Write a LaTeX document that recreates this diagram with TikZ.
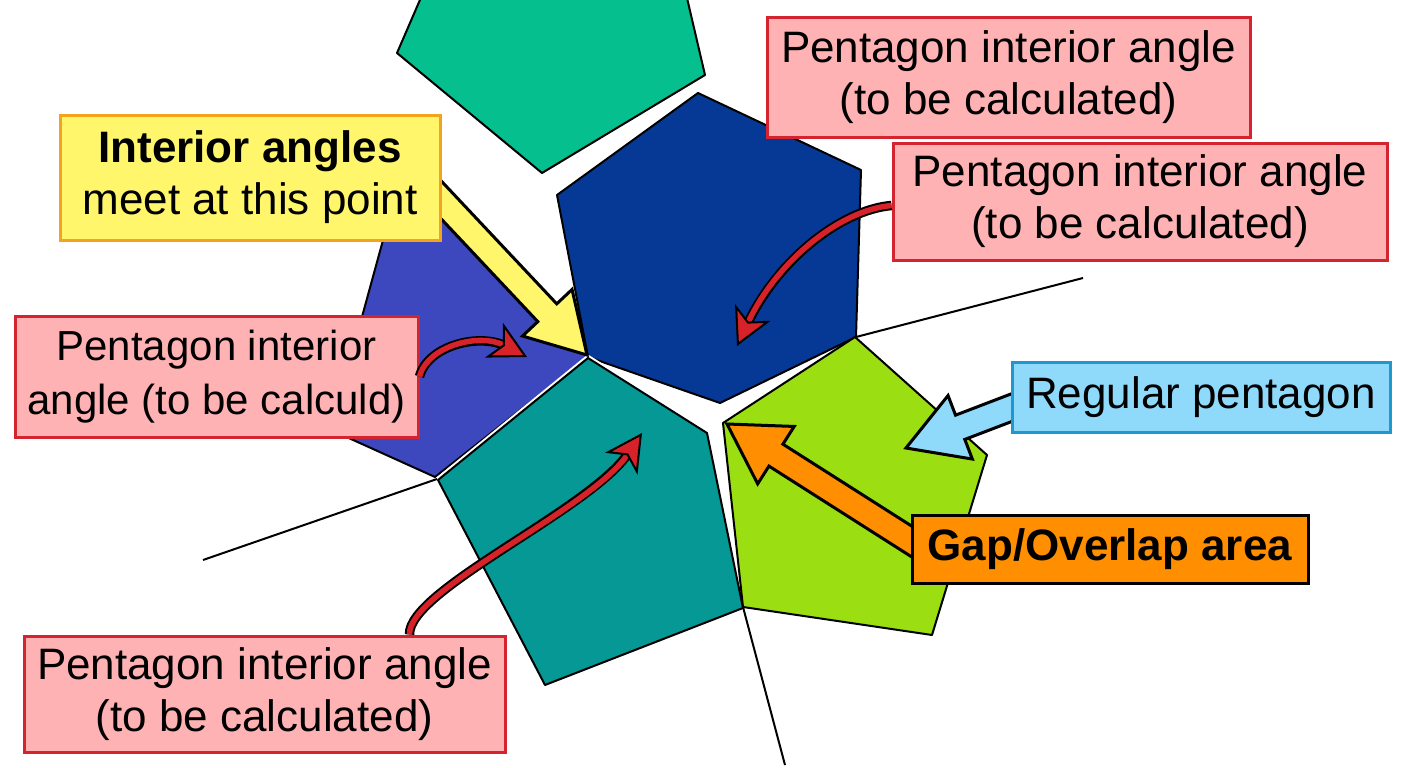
\documentclass[tikz,border=0pt]{standalone}
\usepackage{fontspec}
\setmainfont{Liberation Sans}
\usetikzlibrary{calc,arrows.meta}
\pgfdeclarelayer{bg}
\pgfsetlayers{bg,main}

\definecolor{pinkfill}{HTML}{FFB2B3}
\definecolor{redline}{HTML}{D42430}
\definecolor{yelfill}{HTML}{FFF66C}
\definecolor{yelline}{HTML}{F3A31E}
\definecolor{skyfill}{HTML}{8FD9FA}
\definecolor{skyline}{HTML}{2197D0}
\definecolor{orangefill}{HTML}{FF8E00}
\definecolor{arrred}{HTML}{D8222A}
\definecolor{tgreen}{HTML}{05C08E}
\definecolor{tnavy}{HTML}{063896}
\definecolor{tviolet}{HTML}{3E48BE}
\definecolor{tteal}{HTML}{059894}
\definecolor{tlime}{HTML}{9BDE12}

\begin{document}
\begin{tikzpicture}[x=1pt,y=-1pt,
    lbl/.style={draw, line width=3pt, align=center, inner sep=0pt,
      font=\fontsize{44}{52}\selectfont},
    pinklbl/.style={lbl, draw=redline, fill=pinkfill},
    tile/.style={draw=black, line width=2pt, line join=round},
    guide/.style={black, line width=2pt},
    blockarr/.style={draw=black, line width=3pt, line join=miter},
    curvy/.style={arrred, line width=5.5pt,
      preaction={draw=black, line width=9.5pt, arrows=-, shorten >=24pt},
      -{Stealth[length=37pt, width=39pt, inset=10pt, fill=arrred, color=black, line width=2pt]}}
  ]
  \def\blockarrow#1#2#3{%
    \coordinate (hb) at ($(#2)!58pt!(#1)$);
    \filldraw[blockarr, fill=#3]
      ($(#1)!13pt!90:(#2)$) -- ($(hb)!13pt!-90:(#1)$) -- ($(hb)!34pt!-90:(#1)$)
      -- (#2) -- ($(hb)!34pt!90:(#1)$) -- ($(hb)!13pt!90:(#1)$)
      -- ($(#1)!13pt!-90:(#2)$) -- cycle;
  }
  \useasboundingbox (0,0) rectangle (1408,768);

  % LABELS
  \node[pinklbl, minimum width=483, minimum height=119] (pA) at (1008.5,77.5)
    {Pentagon interior angle\\(to be calculated)};
  \node[pinklbl, minimum width=494, minimum height=117] (pB) at (1140,201.5)
    {Pentagon interior angle\\(to be calculated)};
  \node[lbl, draw=yelline, fill=yelfill, minimum width=380, minimum height=125] (yel) at (250,177.5)
    {\textbf{Interior angles}\\meet at this point};
  \node[pinklbl, minimum width=403, minimum height=121, font=\fontsize{42}{54}\selectfont] (pC) at (216.5,376.5)
    {Pentagon interior\\angle (to be calculd)};
  \node[lbl, draw=skyline, fill=skyfill, minimum width=378, minimum height=70] (rp) at (1201,397)
    {Regular pentagon};
  \node[lbl, draw=black, fill=orangefill, minimum width=396, minimum height=68] (gap) at (1110,549)
    {\textbf{Gap/Overlap area}};
  \node[pinklbl, minimum width=481, minimum height=116] (pD) at (264.5,694)
    {Pentagon interior angle\\(to be calculated)};

  \begin{pgfonlayer}{bg}
    \clip (0,0) rectangle (1408,768);
    \fill[white] (0,0) rectangle (1408,768);

    % TILES
    \filldraw[tile, fill=tgreen] (397,53) -- (542,173) -- (705,75) -- (662,-109) -- (474,-125) -- cycle;
    \filldraw[tile, fill=tnavy] (698,93) -- (861,170) -- (856,337) -- (720,403) -- (588,357) -- (557,195) -- cycle;
    \filldraw[tile, fill=tviolet] (394,200) -- (440,200) -- (588,357) -- (435,477) -- (331,430) -- cycle;
    \draw[white, line width=6pt, line join=round] (588,358) -- (707,433) -- (743,608) -- (545,685) -- (438,480) -- cycle;
    \filldraw[tile, fill=tteal] (588,358) -- (707,433) -- (743,608) -- (545,685) -- (438,480) -- cycle;
    \filldraw[tile, fill=tlime] (855,337) -- (987,455) -- (932,635) -- (743,607) -- (723,423) -- cycle;

    % EDGE LINES
    \draw[guide] (856,337) -- (1083,278);
    \draw[guide] (437,479) -- (203,560);
    \draw[guide] (743,607) -- (785,765);

    % BLOCK ARROWS
    \coordinate (yTail) at ($(yel.east)+(-35,-14.5)$);
    \coordinate (yTip) at (587,355);
    \coordinate (bTail) at ($(rp.west)+(8,8)$);
    \coordinate (bTip) at (906,448);
    \coordinate (oTail) at ($(gap.west)+(13,0)$);
    \coordinate (oTip) at (727,424);
    \blockarrow{yTail}{yTip}{yelfill}
    \blockarrow{bTail}{bTip}{skyfill}
    \blockarrow{oTail}{oTip}{orangefill}
  \end{pgfonlayer}

  % CURVED ARROWS
  \coordinate (r1tip) at (737,346);
  \coordinate (r2tip) at (527,357);
  \coordinate (r3tip) at (642,433);
  \draw[curvy] ($(pB.west)+(0,4)$) .. controls (840,210) and (777,261) .. (r1tip);
  \draw[curvy] (pC.east) .. controls (428,345) and (480,333) .. (r2tip);
  \draw[curvy] ($(pD.north east)+(-97,0)$) .. controls (408,590) and (590,510) .. (r3tip);
\end{tikzpicture}
\end{document}
